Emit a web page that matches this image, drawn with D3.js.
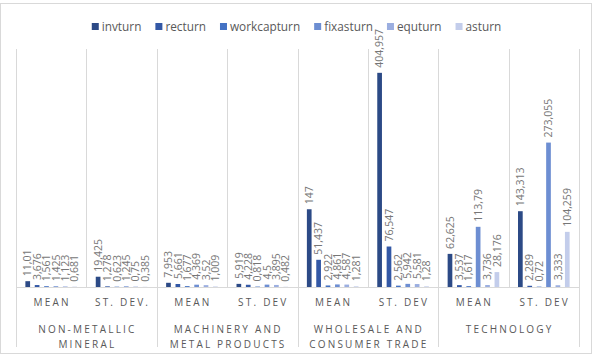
<!DOCTYPE html>
<html>
<head>
<meta charset="utf-8">
<script src="https://cdn.jsdelivr.net/npm/d3@7"></script>
<style>
  body { margin: 0; background: #fff; }
  svg { font-family: "Open Sans", "Noto Sans", sans-serif; }
  .lbl { font-size: 10.5px; fill: #767676; }
  .cat { font-size: 10px; fill: #595959; letter-spacing: 2.2px; }
  .leg { font-size: 11.8px; fill: #595959; }
</style>
</head>
<body>
<div id="chart"></div>
<script>
// data
var series = ["invturn", "recturn", "workcapturn", "fixasturn", "equturn", "asturn"];
var colors = ["#2c4a86", "#3358a6", "#4472c4", "#6d8ed2", "#9baee0", "#c3cdeb"];
var groups = ["NON-METALLIC|MINERAL", "MACHINERY AND|METAL PRODUCTS", "WHOLESALE AND|CONSUMER TRADE", "TECHNOLOGY"];
var stats = [["MEAN", "ST. DEV."], ["MEAN", "ST. DEV"], ["MEAN", "ST. DEV"], ["MEAN", "ST. DEV"]];

var invturn     = [11.01, 19.425, 7.953, 5.919, 147, 404.957, 62.625, 143.313];
var recturn     = [3.676, 1.278, 5.661, 4.228, 51.437, 76.547, 3.537, 2.289];
var workcapturn = [1.561, 0.623, 1.677, 0.818, 2.922, 2.562, 1.617, 0.72];
var fixasturn   = [1.425, 1.245, 4.369, 4.5, 4.861, 5.942, 113.79, 273.055];
var equturn     = [1.123, 0.75, 3.52, 3.895, 4.587, 5.581, 3.736, 3.333];
var asturn      = [0.681, 0.385, 1.009, 0.482, 1.281, 1.28, 28.176, 104.259];
var values = [invturn, recturn, workcapturn, fixasturn, equturn, asturn];

var width = 595, height = 356;
var plotLeft = 16, plotRight = 579, plotTop = 49, base = 287;

var svg = d3.select("#chart").append("svg")
  .attr("width", width).attr("height", height);

svg.append("rect")
  .attr("x", 0.5).attr("y", 3.5).attr("width", 591).attr("height", 350)
  .attr("fill", "#fff").attr("stroke", "#d9d9d9");

var cats = d3.range(8);
var x0 = d3.scaleBand().domain(cats).range([plotLeft, plotRight]);
var x1 = d3.scaleBand().domain(series).range([0, x0.bandwidth()])
  .paddingInner(0.5).paddingOuter(1.0);
var y = d3.scaleLinear().domain([0, 450]).range([base, plotTop]);

var fmt = function(v) { return String(+v.toFixed(3)).replace(".", ","); };

// separators
var grid = svg.append("g").attr("stroke", "#d9d9d9").attr("stroke-width", 1);
d3.range(9).forEach(function(i) {
  var xx = i < 8 ? x0(i) : plotRight;
  xx = Math.round(xx) + 0.5;
  var isGroup = i % 2 === 0;
  grid.append("line")
    .attr("x1", xx).attr("x2", xx)
    .attr("y1", plotTop).attr("y2", isGroup ? 347 : base);
});
grid.append("line")
  .attr("x1", plotLeft).attr("x2", plotRight)
  .attr("y1", base + 0.5).attr("y2", base + 0.5);

// bars
var bars = svg.append("g");
series.forEach(function(s, si) {
  cats.forEach(function(c) {
    var v = values[si][c];
    var bx = x0(c) + x1(s);
    bars.append("rect")
      .attr("x", bx).attr("y", y(v))
      .attr("width", x1.bandwidth()).attr("height", base - y(v))
      .attr("fill", colors[si]);
    var cx = bx + x1.bandwidth() / 2;
    var ty = y(v) - 5;
    bars.append("text")
      .attr("class", "lbl")
      .attr("transform", "translate(" + cx + "," + ty + ") rotate(-90)")
      .attr("dy", "0.35em")
      .text(fmt(v));
  });
});

// category labels
var axis = svg.append("g");
cats.forEach(function(c) {
  axis.append("text").attr("class", "cat")
    .attr("x", x0(c) + x0.bandwidth() / 2 + 1).attr("y", 306)
    .attr("text-anchor", "middle")
    .text(stats[Math.floor(c / 2)][c % 2]);
});
groups.forEach(function(g, gi) {
  var cx = x0(gi * 2) + x0.bandwidth() + 1;
  g.split("|").forEach(function(line, li) {
    axis.append("text").attr("class", "cat")
      .attr("x", cx).attr("y", 333 + li * 15)
      .attr("text-anchor", "middle")
      .text(line);
  });
});

// legend
var leg = svg.append("g");
var items = [];
var total = 0;
series.forEach(function(s, i) {
  var t = leg.append("text").attr("class", "leg").attr("y", 31).text(s);
  var w = t.node().getComputedTextLength();
  items.push({t: t, w: w});
  total += 10 + w + (i < series.length - 1 ? 14 : 0);
});
var lx = (width - total) / 2 - 1;
items.forEach(function(it, i) {
  leg.append("rect").attr("x", lx).attr("y", 23).attr("width", 7).attr("height", 7)
    .attr("fill", colors[i]);
  it.t.attr("x", lx + 10);
  lx += 10 + it.w + 14;
});
</script>
</body>
</html>
